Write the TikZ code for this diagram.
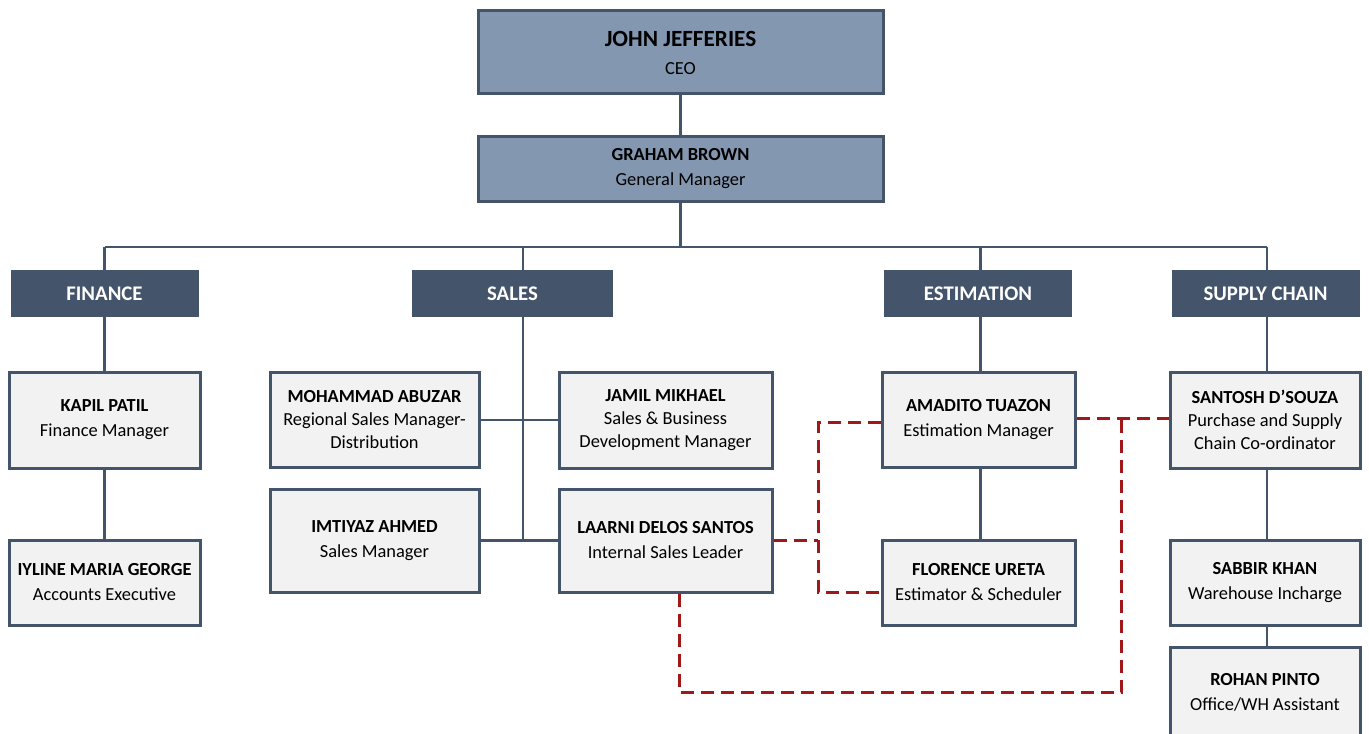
\documentclass[tikz,border=0pt]{standalone}
\usepackage{fontspec}
\setmainfont{Carlito}
\usepackage{tikz}
\usetikzlibrary{positioning, calc}

\definecolor{slate}{HTML}{44546A}
\definecolor{steel}{HTML}{8497B0}
\definecolor{paper}{HTML}{F2F2F2}
\definecolor{darkred}{HTML}{A01818}

\tikzset{
    person/.style={draw=slate, line width=1.5pt, fill=paper, align=center, inner sep=0pt,
        font=\fontsize{9.2}{12.5}\selectfont, text=black},
    chief/.style={draw=slate, line width=1.5pt, fill=steel, align=center, inner sep=0pt,
        text=black},
    dept/.style={fill=slate, text=white, inner sep=0pt, minimum width=94pt, minimum height=23.5pt,
        font=\fontsize{10.4}{12}\selectfont\bfseries},
    link/.style={draw=slate, line width=1.3pt},
    xlink/.style={draw=darkred, line width=1.5pt, dash pattern=on 6.5pt off 3.5pt}
}

\begin{document}
\begin{tikzpicture}[x=0.5pt, y=-0.5pt]

            \useasboundingbox (0,0) rectangle (1369,733);

            % Direction
            \node[chief, minimum width=202.5pt, minimum height=41.5pt,
                  font=\fontsize{9.2}{14}\selectfont] (ceo) at (680.5,52.5)
                  {{\fontsize{11.6}{14}\selectfont\bfseries JOHN JEFFERIES}\\CEO};
            \node[chief, minimum width=202.5pt, minimum height=32.5pt,
                  font=\fontsize{9.2}{12.5}\selectfont] (gm) at (680.5,168.5)
                  {\textbf{GRAHAM BROWN}\\General Manager};

            % Departments
            \node[dept] (finance) at (104.5,293.5) {FINANCE};
            \node[dept, minimum width=100.5pt] (sales) at (512.5,293.5) {SALES};
            \node[dept] (estim) at (978,293.5) {ESTIMATION};
            \node[dept] (supply) at (1265.5,293.5) {SUPPLY CHAIN};

            % Finance
            \node[person, minimum width=95.5pt, minimum height=48pt] (kapil) at (104.5,420)
                  {\textbf{KAPIL PATIL}\\Finance Manager};
            \node[person, minimum width=95.5pt, minimum height=42.5pt] (iyline) at (104.5,582.5)
                  {\textbf{IYLINE MARIA GEORGE}\\Accounts Executive};

            % Sales
            \node[person, minimum width=104.5pt, minimum height=47.5pt,
                  font=\fontsize{9.2}{11.5}\selectfont] (abuzar) at (374.5,420)
                  {\textbf{MOHAMMAD ABUZAR}\\Regional Sales Manager-\\Distribution};
            \node[person, minimum width=104.5pt, minimum height=51.5pt] (imtiyaz) at (374.5,540.5)
                  {\textbf{IMTIYAZ AHMED}\\Sales Manager};
            \node[person, minimum width=106.5pt, minimum height=48pt,
                  font=\fontsize{9.2}{11.5}\selectfont] (jamil) at (665.5,420)
                  {\textbf{JAMIL MIKHAEL}\\Sales \& Business\\Development Manager};
            \node[person, minimum width=106.5pt, minimum height=51.5pt] (laarni) at (665.5,540.5)
                  {\textbf{LAARNI DELOS SANTOS}\\Internal Sales Leader};

            % Estimation
            \node[person, minimum width=96.5pt, minimum height=47.5pt] (amadito) at (978.5,419.5)
                  {\textbf{AMADITO TUAZON}\\Estimation Manager};
            \node[person, minimum width=96.5pt, minimum height=42.5pt] (florence) at (978.5,582.5)
                  {\textbf{FLORENCE URETA}\\Estimator \& Scheduler};

            % Supply chain
            \node[person, minimum width=95pt, minimum height=48pt,
                  font=\fontsize{9.2}{11.5}\selectfont] (santosh) at (1265,420)
                  {\textbf{SANTOSH D'SOUZA}\\Purchase and Supply\\Chain Co-ordinator};
            \node[person, minimum width=95pt, minimum height=42.5pt] (sabbir) at (1265,582.5)
                  {\textbf{SABBIR KHAN}\\Warehouse Incharge};
            \node[person, minimum width=95pt, minimum height=45pt] (rohan) at (1265,692)
                  {\textbf{ROHAN PINTO}\\Office/WH Assistant};

            % Reporting lines
            \coordinate (busL) at (104.5,247);
            \coordinate (busR) at (1267,247);
            \coordinate (salesbus) at (523,247);
            \coordinate (estbus) at (980.5,247);
            \draw[link] (ceo) -- (gm);
            \draw[link] (gm) -- (gm |- busL);
            \draw[link] (busL) -- (busR);
            \draw[link] (busL) -- (finance);
            \draw[link] (salesbus) -- (salesbus |- sales.north);
            \draw[link] (estbus) -- (estbus |- estim.north);
            \draw[link] (busR) -- (busR |- supply.north);

            \draw[link] (finance) -- (kapil);
            \draw[link] (kapil) -- (iyline);
            \draw[link] (salesbus |- sales.south) -- (salesbus |- laarni.west);
            \draw[link] (abuzar.east) -- (jamil.west);
            \draw[link] (imtiyaz.east) -- (laarni.west);
            \draw[link] (estbus |- estim.south) -- (estbus |- amadito.north);
            \draw[link] (estbus |- amadito.south) -- (estbus |- florence.north);
            \draw[link] (busR |- supply.south) -- (busR |- santosh.north);
            \draw[link] (busR |- santosh.south) -- (busR |- sabbir.north);
            \draw[link] (busR |- sabbir.south) -- (busR |- rohan.north);

            % Working relations
            \coordinate (jn) at (818,540.5);
            \coordinate (loop) at (1121,692);
            \draw[xlink] (laarni.east) -- (jn);
            \draw[xlink] ([yshift=-1.25pt]amadito.west) -| (jn) |- ([yshift=-4.75pt]florence.west);
            \draw[xlink] ([yshift=0.75pt]amadito.east) -- ([yshift=1pt]santosh.west);
            \draw[xlink] ([xshift=6.75pt]laarni.south) |- (loop) -- (loop |- santosh.west);

\end{tikzpicture}
\end{document}
